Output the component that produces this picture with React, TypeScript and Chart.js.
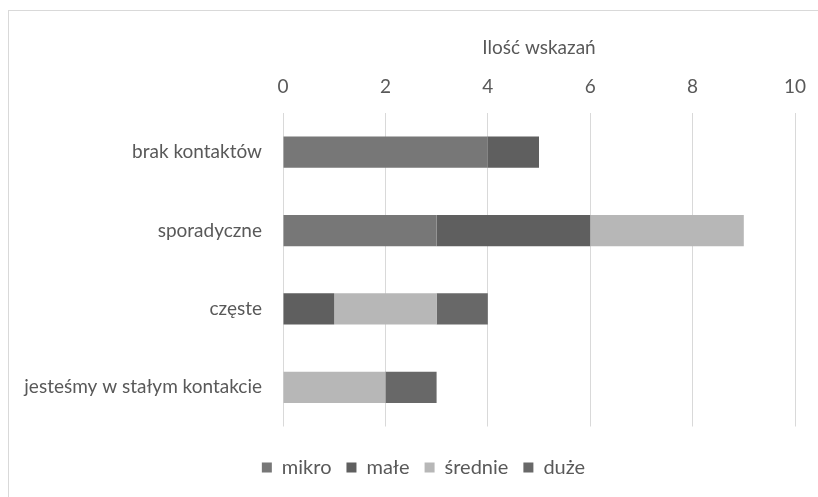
import React, { useEffect, useRef } from "react";
import { Chart, registerables } from "chart.js";

Chart.register(...registerables);

const categories = ["brak kontaktów", "sporadyczne", "częste", "jesteśmy w stałym kontakcie"];
const seriesNames = ["mikro", "małe", "średnie", "duże"];
const mikro = [4, 3, 0, 0];
const male = [1, 3, 1, 0];
const srednie = [0, 3, 2, 2];
const duze = [0, 0, 1, 1];
const seriesColors = ["#777777", "#5f5f5f", "#b7b7b7", "#686868"];
const xTicks = [0, 2, 4, 6, 8, 10];
const axisTitle = "Ilość wskazań";

const FONT = "Lato";
const TEXT = "#595959";
const FS = 19;

const framePlugin = {
  id: "frame",
  beforeDraw(chart: any) {
    const ctx = chart.ctx;
    ctx.save();
    ctx.fillStyle = "#ffffff";
    ctx.fillRect(0, 0, chart.width, chart.height);
    ctx.strokeStyle = "#d9d9d9";
    ctx.lineWidth = 1;
    ctx.strokeRect(8.5, 10.5, chart.width + 20, chart.height + 20);
    ctx.restore();
  },
  afterLayout(chart: any) {
    if (chart.legend) {
      chart.legend.left += 20;
      chart.legend.right += 20;
    }
  },
};

export default function App() {
  const ref = useRef<HTMLCanvasElement | null>(null);
  useEffect(() => {
    const values = [mikro, male, srednie, duze];
    const chart = new Chart(ref.current as HTMLCanvasElement, {
      type: "bar",
      data: {
        labels: categories,
        datasets: seriesNames.map((name, i) => ({
          label: name,
          data: values[i].map((v) => (v === 0 ? null : v)),
          backgroundColor: seriesColors[i],
          borderWidth: 0,
          categoryPercentage: 1,
          barPercentage: 0.4,
        })),
      },
      options: {
        indexAxis: "y",
        animation: false,
        responsive: false,
        layout: { padding: { left: 12, right: 23, top: 10, bottom: 9.5 } },
        scales: {
          x: {
            position: "top",
            stacked: true,
            min: 0,
            max: 10,
            afterBuildTicks: (scale: any) => {
              scale.ticks = xTicks.map((v) => ({ value: v }));
            },
            afterFit: (scale: any) => {
              scale.height = 103;
              scale.paddingLeft = 0;
              scale.paddingRight = 0;
            },
            grid: { color: "#d9d9d9", drawTicks: false, lineWidth: 1 },
            border: { display: false },
            ticks: { color: TEXT, font: { family: FONT, size: FS }, padding: 15 },
            title: {
              display: true,
              text: axisTitle,
              color: TEXT,
              font: { family: FONT, size: FS },
              padding: { top: 26, bottom: 0 },
            },
          },
          y: {
            stacked: true,
            afterFit: (scale: any) => {
              scale.width = 271;
            },
            grid: { display: false, drawTicks: false },
            border: { display: false },
            ticks: { color: TEXT, font: { family: FONT, size: FS }, padding: 21 },
          },
        },
        plugins: {
          legend: {
            position: "bottom",
            title: { display: true, text: " ", font: { size: 5 }, padding: { top: 10, bottom: 0 } },
            labels: {
              color: TEXT,
              font: { family: FONT, size: 20 },
              boxWidth: 10,
              boxHeight: 10,
              padding: 15,
            },
          },
          tooltip: { enabled: false },
        },
      },
      plugins: [framePlugin],
    });
    return () => chart.destroy();
  }, []);
  return (
    <div style={{ position: "fixed", left: 0, top: 0, width: 818, height: 497 }}>
      <canvas ref={ref} width={818} height={497} style={{ width: 818, height: 497 }} />
    </div>
  );
}
